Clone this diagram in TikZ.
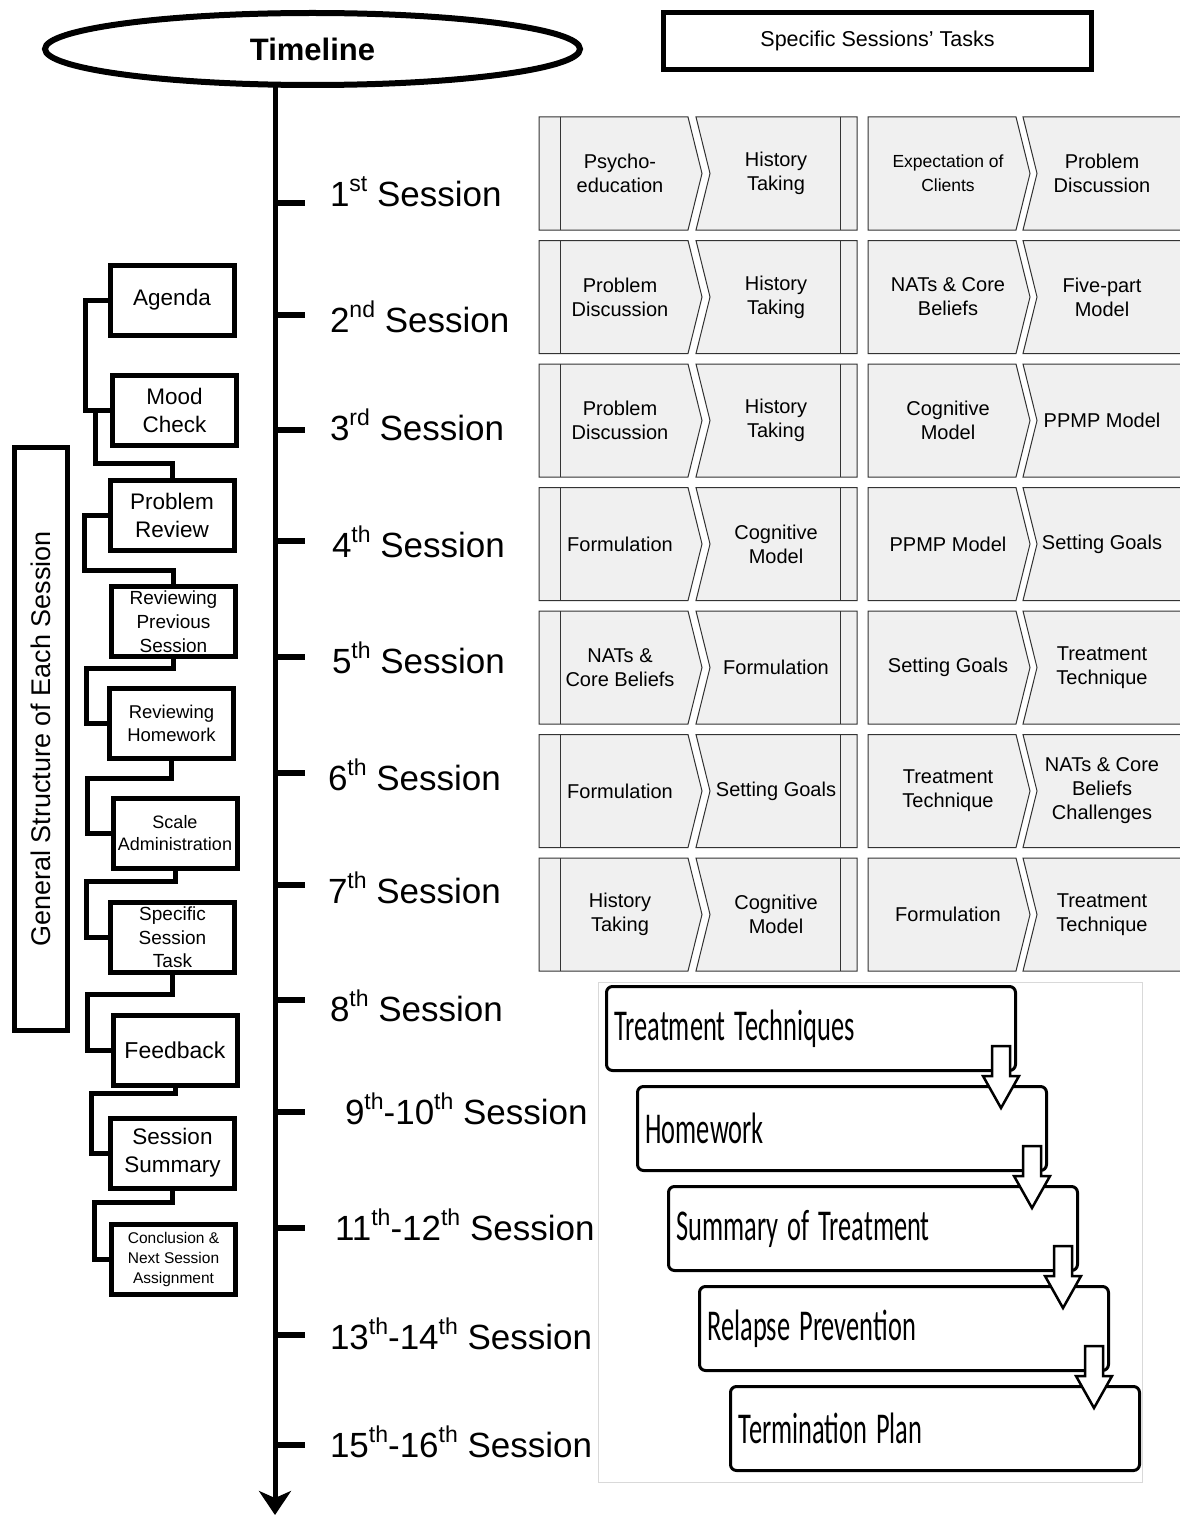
\documentclass[tikz,border=0pt]{standalone}
\usepackage{fontspec}
\setmainfont{Liberation Sans}
\newfontfamily\calibfont{Carlito}
\usetikzlibrary{arrows.meta,shapes.geometric}

\newcommand\fsz[2]{\fontsize{#1}{#2}\selectfont}
\newcommand\sups[1]{\raisebox{15pt}{\fsz{23}{23}#1}}
\newcommand\steptext[1]{{\calibfont\fsz{44}{50}\spaceskip=15pt\relax\scalebox{0.6}[1]{#1}}}

% one row of four chevrons: name, top edge, four labels
\newcommand\chevrow[6]{%
  \filldraw[chev] (539,#2) -- (688,#2) -- (702,#2+56.5) -- (688,#2+113) -- (539,#2+113) -- cycle;
  \draw[chevline] (560,#2) -- (560,#2+113);
  \filldraw[chev] (696,#2) -- (857,#2) -- (857,#2+113) -- (696,#2+113) -- (710,#2+56.5) -- cycle;
  \draw[chevline] (840,#2) -- (840,#2+113);
  \filldraw[chev] (868,#2) -- (1016,#2) -- (1030,#2+56.5) -- (1016,#2+113) -- (868,#2+113) -- cycle;
  \filldraw[chev] (1023,#2) -- (1190,#2) -- (1190,#2+113) -- (1023,#2+113) -- (1037,#2+56.5) -- cycle;
  \node[chevtext] (#1a) at (620,#2+56.5) {#3};
  \node[chevtext] (#1b) at (776,#2+56.5) {#4};
  \node[chevtext] (#1c) at (948,#2+56.5) {#5};
  \node[chevtext] (#1d) at (1102,#2+56.5) {#6};
}

% hollow block arrow hanging from the lower right corner of a step box
\newcommand\steparrow[1]{%
  \begin{scope}[shift={(#1.south east)}]
    \draw[blockarrow] (-23.5,-24.5) -- (-5.5,-24.5) -- (-5.5,5.5) -- (3.5,5.5)
      -- (-14.5,37.5) -- (-32.5,5.5) -- (-23.5,5.5) -- cycle;
  \end{scope}
}

\begin{document}
\begin{tikzpicture}[x=1pt,y=-1pt,
  every node/.style={inner sep=0pt,outer sep=0pt},
  sbox/.style={draw,line width=5pt,fill=white,align=center,minimum width=124pt,minimum height=70pt},
  conn/.style={line width=5pt},
  chev/.style={draw=black!80,line width=1pt,fill=black!6},
  chevline/.style={draw=black!80,line width=1pt},
  chevtext/.style={align=center,font=\fsz{20}{24}},
  sess/.style={anchor=base west,font=\fsz{35}{42}},
  tickmark/.style={line width=6pt},
  stepbox/.style={draw,line width=3pt,rounded corners=6pt,fill=white,
    minimum width=409pt,minimum height=84pt,inner xsep=8pt,text width=393pt,align=left},
  blockarrow/.style={draw,line width=2.5pt,fill=white,line join=miter}]

\useasboundingbox (0,0) rectangle (1179,1517);
\fill[white] (0,0) rectangle (1179,1517);

% ---------- headers ----------
\node[ellipse,draw,line width=6pt,minimum width=535pt,minimum height=72pt,
  font=\fsz{31}{36}\bfseries] (tl) at (312.5,49) {Timeline};
\node[draw,line width=5pt,minimum width=428pt,minimum height=57pt,
  font=\fsz{21.5}{26}] (tasks) at (877.5,41) {Specific Sessions’ Tasks};

% ---------- timeline axis ----------
\coordinate (axisend) at (275,1515);
\draw[line width=5pt,-{Stealth[length=24pt,width=32pt,inset=7pt]}] (tl.south -| axisend) -- (axisend);
\foreach \y in {203,315,430,541,657,773,885,1000,1112,1228,1335,1445}
  \draw[tickmark] (275,\y) -- (305,\y);

\node[sess] (s1)  at (330,207)  {1\sups{st} Session};
\node[sess] (s2)  at (330,332)  {2\sups{nd} Session};
\node[sess] (s3)  at (330,440)  {3\sups{rd} Session};
\node[sess] (s4)  at (332,557)  {4\sups{th} Session};
\node[sess] (s5)  at (332,673)  {5\sups{th} Session};
\node[sess] (s6)  at (328,790)  {6\sups{th} Session};
\node[sess] (s7)  at (328,903)  {7\sups{th} Session};
\node[sess] (s8)  at (330,1021) {8\sups{th} Session};
\node[sess] (s9)  at (345,1124) {9\sups{th}-10\sups{th} Session};
\node[sess] (s11) at (335,1240) {11\sups{th}-12\sups{th} Session};
\node[sess] (s13) at (330,1349) {13\sups{th}-14\sups{th} Session};
\node[sess] (s15) at (330,1457) {15\sups{th}-16\sups{th} Session};

% ---------- session task chevrons ----------
\chevrow{r1}{117}{Psycho-\\education}{History\\Taking}{\fsz{17.5}{21}Expectation of\\\fsz{17.5}{21}Clients}{Problem\\Discussion}
\chevrow{r2}{240.5}{Problem\\Discussion}{History\\Taking}{NATs \& Core\\Beliefs}{Five-part\\Model}
\chevrow{r3}{364}{Problem\\Discussion}{History\\Taking}{Cognitive\\Model}{PPMP Model}
\chevrow{r4}{487.5}{Formulation}{Cognitive\\Model}{PPMP Model}{Setting Goals}
\chevrow{r5}{611}{NATs \&\\Core Beliefs}{Formulation}{Setting Goals}{Treatment\\Technique}
\chevrow{r6}{734.5}{Formulation}{Setting Goals}{Treatment\\Technique}{NATs \& Core\\Beliefs\\Challenges}
\chevrow{r7}{858}{History\\Taking}{Cognitive\\Model}{Formulation}{Treatment\\Technique}

% ---------- general structure of each session ----------
\node[draw,line width=5pt,rotate=90,minimum width=583pt,minimum height=53pt,
  font=\fsz{27}{32}] (gen) at (41,739) {General Structure of Each Session};

\node[sbox,font=\fsz{22.5}{28}] (agenda) at (172,300)    {Agenda};
\node[sbox,font=\fsz{22.5}{28}] (mood)   at (174.5,410)  {Mood\\Check};
\node[sbox,font=\fsz{22.5}{28}] (prob)   at (172,515)    {Problem\\Review};
\node[sbox,font=\fsz{19}{24}]   (revp)   at (173.5,621.5){Reviewing\\Previous\\Session};
\node[sbox,font=\fsz{18.5}{23}] (revh)   at (171.5,723.5){Reviewing\\Homework};
\node[sbox,font=\fsz{18}{22}]   (scale)  at (175,833)    {Scale\\Administration};
\node[sbox,font=\fsz{19}{23.5}] (spec)   at (172.5,937.5){Specific\\Session\\Task};
\node[sbox,font=\fsz{23}{28}]   (fb)     at (175,1050)   {Feedback};
\node[sbox,font=\fsz{22.5}{28}] (summ)   at (172.5,1153) {Session\\Summary};
\node[sbox,font=\fsz{15.5}{20}] (conc)   at (173.5,1259.5){Conclusion \&\\Next Session\\Assignment};

\draw[conn] (agenda.west) -- ++(-25,0) |- (mood.west);
\draw[conn] (mood.west) -- ++(-17,0) -- ++(0,53) -| (prob.north);
\draw[conn] (prob.west) -- ++(-26,0) -- ++(0,55) -| (revp.north);
\draw[conn] (revp.south) -- ++(0,12) -| ([xshift=-23]revh.west) -- (revh.west);
\draw[conn] (revh.south) -- ++(0,20) -| ([xshift=-26]scale.west) -- (scale.west);
\draw[conn] (scale.south) -- ++(0,13) -| ([xshift=-24]spec.west) -- (spec.west);
\draw[conn] (spec.south) -- ++(0,22) -| ([xshift=-26]fb.west) -- (fb.west);
\draw[conn] (fb.south) -- ++(0,8) -| ([xshift=-19]summ.west) -- (summ.west);
\draw[conn] (summ.south) -- ++(0,14) -| ([xshift=-17]conc.west) -- (conc.west);

% ---------- later sessions ----------
\draw[black!15,line width=1pt] (598,982) rectangle (1142,1482);
\node[stepbox] (st1) at (811,1028.5)  {\steptext{Treatment Techniques}};
\node[stepbox] (st2) at (842,1128.5)  {\steptext{Homework}};
\node[stepbox] (st3) at (873,1228.5)  {\steptext{Summary of Treatment}};
\node[stepbox] (st4) at (904,1328.5)  {\steptext{Relapse Prevention}};
\node[stepbox] (st5) at (935,1428.5)  {\steptext{Termination Plan}};
\steparrow{st1}
\steparrow{st2}
\steparrow{st3}
\steparrow{st4}

\end{tikzpicture}
\end{document}
